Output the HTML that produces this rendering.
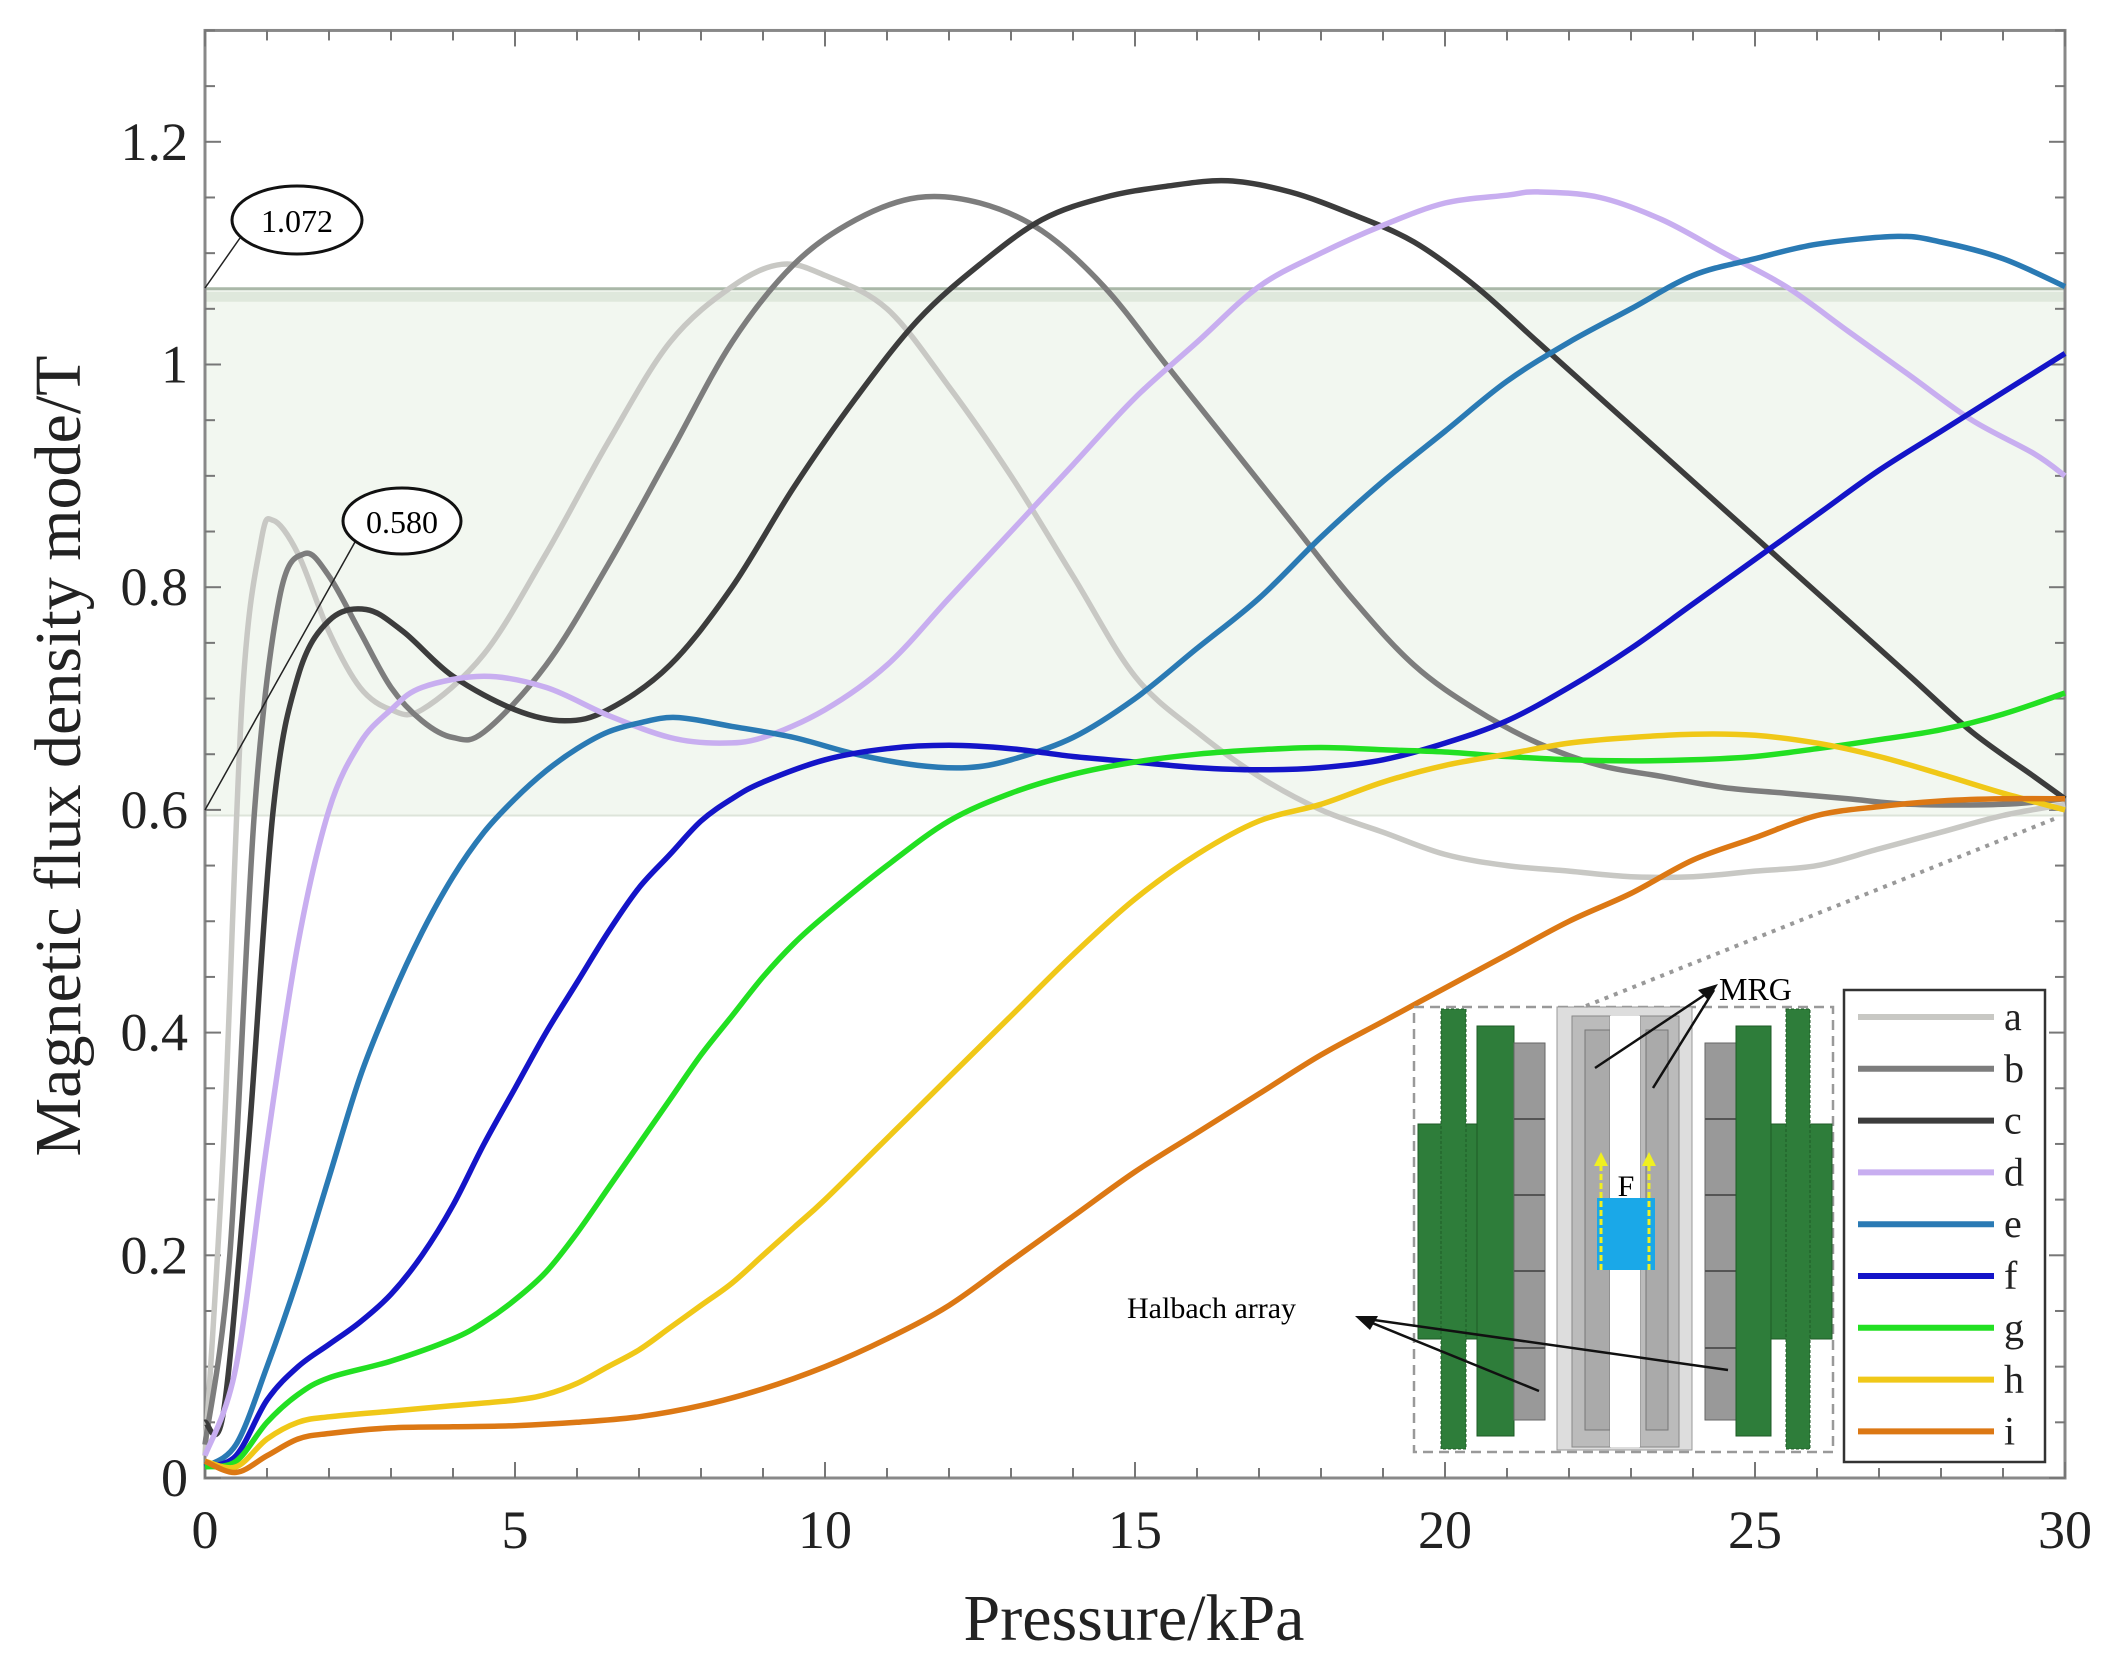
<!DOCTYPE html>
<html><head><meta charset="utf-8"><style>
html,body{margin:0;padding:0;background:#fff}
svg{display:block}
text{font-family:"Liberation Serif",serif}
</style></head><body>
<svg id="chart" width="2106" height="1663" viewBox="0 0 2106 1663" xmlns="http://www.w3.org/2000/svg">
<g id="band"></g>
<g id="grid"></g>
<g id="series"></g>
<g id="inset">
  <rect x="1414" y="1007" width="419" height="445" fill="#fff" stroke="#999" stroke-width="2.5" stroke-dasharray="10,6"/>
  <rect x="1418" y="1124" width="59" height="215" fill="#2e7d3a" stroke="#1d5a26"/>
  <rect x="1441" y="1009" width="25" height="440" fill="#2e7d3a" stroke="#1d5a26" stroke-dasharray="3,2"/>
  <rect x="1477" y="1026" width="37" height="410" fill="#2e7d3a" stroke="#1d5a26"/>
  <rect x="1514" y="1043" width="31" height="377" fill="#999" stroke="#666"/>
  <path d="M1514 1119H1545M1514 1195H1545M1514 1271H1545M1514 1348H1545" stroke="#555" stroke-width="2"/>
  <rect x="1557" y="1007" width="135" height="443" fill="#ddd" stroke="#999"/>
  <rect x="1572" y="1016" width="38" height="431" fill="#bbb" stroke="#888"/>
  <rect x="1585" y="1030" width="25" height="400" fill="#aaa" stroke="#777"/>
  <rect x="1640" y="1016" width="39" height="431" fill="#bbb" stroke="#888"/>
  <rect x="1646" y="1030" width="22" height="400" fill="#aaa" stroke="#777"/>
  <rect x="1610" y="1016" width="30" height="431" fill="#fff"/>
  <rect x="1597" y="1198" width="58" height="72" fill="#1aa8e8"/>
  <path d="M1601 1270V1160M1649 1270V1160" stroke="#f0f020" stroke-width="3" stroke-dasharray="6,3"/>
  <path d="M1594 1166L1601 1152L1608 1166ZM1642 1166L1649 1152L1656 1166Z" fill="#f0f020"/>
  <text x="1626" y="1196" font-size="30" text-anchor="middle">F</text>
  <rect x="1705" y="1043" width="31" height="377" fill="#999" stroke="#666"/>
  <path d="M1705 1119H1736M1705 1195H1736M1705 1271H1736M1705 1348H1736" stroke="#555" stroke-width="2"/>
  <rect x="1736" y="1026" width="35" height="410" fill="#2e7d3a" stroke="#1d5a26"/>
  <rect x="1771" y="1124" width="61" height="215" fill="#2e7d3a" stroke="#1d5a26"/>
  <rect x="1786" y="1009" width="24" height="440" fill="#2e7d3a" stroke="#1d5a26" stroke-dasharray="3,2"/>
  <path d="M1586 1006L2059 817" stroke="#999" stroke-width="4" stroke-dasharray="4,6"/>
  <path d="M1595 1068L1712 990M1653 1088L1714 990" stroke="#111" stroke-width="2.5"/>
  <path d="M1718 984L1698 990L1708 1000Z" fill="#111"/>
  <text x="1719" y="1000" font-size="32">MRG</text>
  <path d="M1360 1318L1539 1391M1360 1318L1728 1370" stroke="#111" stroke-width="2.5"/>
  <path d="M1355 1316L1378 1316L1370 1330Z" fill="#111"/>
  <text x="1127" y="1318" font-size="30">Halbach array</text>
</g>
<g id="legend"></g>
<g id="annot">
  <path d="M205 288L240 238" stroke="#222" stroke-width="1.5"/>
  <ellipse cx="297" cy="220" rx="65" ry="34" fill="#fff" stroke="#111" stroke-width="3"/>
  <text x="297" y="232" font-size="32" text-anchor="middle">1.072</text>
  <path d="M205 810L355 542" stroke="#222" stroke-width="1.5"/>
  <ellipse cx="402" cy="521" rx="59" ry="33" fill="#fff" stroke="#111" stroke-width="3"/>
  <text x="402" y="533" font-size="32" text-anchor="middle">0.580</text>
</g>
</svg>
<script>
const xTicks=[0,5,10,15,20,25,30];
const yTicks=[0,0.2,0.4,0.6,0.8,1,1.2];
const yTickLabels=["0","0.2","0.4","0.6","0.8","1","1.2"];
const bandRange=[0.595,1.068];
const seriesNames=["a","b","c","d","e","f","g","h","i"];
const seriesColors=["#c8c8c4","#7d7d7d","#3c3c3c","#c8aef0","#2a7ab4","#1414c8","#22e022","#f0c818","#dc7814"];
const sa=[[0,0.02],[0.3,0.3],[0.6,0.7],[0.9,0.84],[1.1,0.86],[1.5,0.83],[2,0.76],[2.5,0.71],[3,0.69],[3.5,0.69],[4.5,0.74],[5.5,0.83],[6.5,0.93],[7.5,1.02],[8.5,1.07],[9.3,1.09],[10,1.08],[11,1.05],[12,0.98],[13,0.9],[14,0.81],[15,0.72],[16,0.67],[17,0.63],[18,0.6],[19,0.58],[20,0.56],[21,0.55],[22,0.545],[23,0.54],[24,0.54],[25,0.545],[26,0.55],[27,0.565],[28,0.58],[29,0.595],[30,0.605]];
const sb=[[0,0.03],[0.4,0.2],[0.8,0.6],[1.2,0.79],[1.6,0.83],[2,0.81],[2.5,0.76],[3,0.71],[3.5,0.68],[4,0.665],[4.5,0.67],[5.5,0.73],[6.5,0.82],[7.5,0.92],[8.5,1.02],[9.5,1.09],[10.5,1.13],[11.5,1.15],[12.5,1.145],[13.5,1.12],[14.5,1.07],[15.5,1.0],[16.5,0.93],[17.5,0.86],[18.5,0.79],[19.5,0.73],[20.5,0.69],[21.5,0.66],[22.5,0.64],[23.5,0.63],[24.5,0.62],[25.5,0.615],[26.5,0.61],[27.5,0.605],[29,0.605],[30,0.61]];
const sc=[[0,0.05],[0.3,0.06],[0.7,0.3],[1.1,0.6],[1.5,0.72],[2,0.77],[2.6,0.78],[3.2,0.76],[4,0.72],[5,0.69],[5.8,0.68],[6.5,0.69],[7.5,0.73],[8.5,0.8],[9.5,0.89],[10.5,0.97],[11.5,1.04],[12.5,1.09],[13.5,1.13],[14.5,1.15],[15.5,1.16],[16.5,1.165],[17.5,1.155],[18.5,1.135],[19.5,1.11],[20.5,1.07],[21.5,1.02],[22.5,0.97],[23.5,0.92],[24.5,0.87],[25.5,0.82],[26.5,0.77],[27.5,0.72],[28.5,0.67],[29.5,0.63],[30,0.61]];
const sd=[[0,0.02],[0.5,0.1],[1,0.3],[1.5,0.48],[2,0.6],[2.5,0.66],[3,0.69],[3.5,0.71],[4.5,0.72],[5.5,0.71],[6.5,0.685],[7.5,0.665],[8.3,0.66],[9,0.665],[10,0.69],[11,0.73],[12,0.79],[13,0.85],[14,0.91],[15,0.97],[16,1.02],[17,1.07],[18,1.1],[19,1.125],[20,1.145],[21,1.152],[21.5,1.155],[22.5,1.15],[23.5,1.13],[24.5,1.1],[25.5,1.07],[26.5,1.03],[27.5,0.99],[28.5,0.95],[29.5,0.92],[30,0.9]];
const se=[[0,0.01],[0.5,0.03],[1,0.1],[1.5,0.18],[2,0.27],[2.5,0.36],[3,0.43],[3.5,0.49],[4,0.54],[4.5,0.58],[5,0.61],[5.5,0.635],[6,0.655],[6.5,0.67],[7,0.678],[7.6,0.683],[8.5,0.675],[9.5,0.665],[10.5,0.65],[11.5,0.64],[12.3,0.638],[13,0.645],[14,0.665],[15,0.7],[16,0.745],[17,0.79],[18,0.845],[19,0.895],[20,0.94],[21,0.985],[22,1.02],[23,1.05],[24,1.08],[25,1.095],[26,1.108],[27.3,1.115],[28,1.11],[29,1.095],[30,1.07]];
const sf=[[0,0.01],[0.5,0.02],[1,0.07],[1.5,0.1],[2,0.12],[2.5,0.14],[3,0.165],[3.5,0.2],[4,0.245],[4.5,0.3],[5,0.35],[5.5,0.4],[6,0.445],[6.5,0.49],[7,0.53],[7.5,0.56],[8,0.59],[8.5,0.61],[9,0.625],[10,0.645],[11,0.655],[12,0.658],[13,0.655],[14,0.648],[15,0.643],[16,0.638],[17,0.636],[18,0.638],[19,0.645],[20,0.66],[21,0.68],[22,0.71],[23,0.745],[24,0.785],[25,0.825],[26,0.865],[27,0.905],[28,0.94],[29,0.975],[30,1.01]];
const sg=[[0,0.01],[0.5,0.015],[1,0.05],[1.5,0.075],[2,0.09],[3,0.105],[4,0.125],[4.5,0.14],[5,0.16],[5.5,0.185],[6,0.22],[6.5,0.26],[7,0.3],[7.5,0.34],[8,0.38],[8.5,0.415],[9,0.45],[9.5,0.48],[10,0.505],[11,0.55],[12,0.59],[13,0.615],[14,0.632],[15,0.643],[16,0.65],[17,0.654],[18,0.656],[19,0.654],[20,0.652],[21,0.648],[22,0.645],[23,0.644],[24,0.645],[25,0.648],[26,0.655],[27,0.663],[28,0.672],[29,0.686],[30,0.705]];
const sh=[[0,0.015],[0.5,0.01],[1,0.035],[1.5,0.05],[2,0.055],[3,0.06],[4,0.065],[5,0.07],[5.5,0.075],[6,0.085],[6.5,0.1],[7,0.115],[7.5,0.135],[8,0.155],[8.5,0.175],[9,0.2],[9.5,0.225],[10,0.25],[11,0.305],[12,0.36],[13,0.415],[14,0.47],[15,0.52],[16,0.56],[17,0.59],[18,0.605],[19,0.625],[20,0.64],[21,0.65],[22,0.66],[23,0.665],[24,0.668],[25,0.667],[26,0.66],[27,0.648],[28,0.632],[29,0.615],[30,0.6]];
const si=[[0,0.015],[0.5,0.005],[1,0.02],[1.5,0.035],[2,0.04],[3,0.045],[4,0.046],[5,0.047],[6,0.05],[7,0.055],[8,0.065],[9,0.08],[10,0.1],[11,0.125],[12,0.155],[13,0.195],[14,0.235],[15,0.275],[16,0.31],[17,0.345],[18,0.38],[19,0.41],[20,0.44],[21,0.47],[22,0.5],[23,0.525],[24,0.555],[25,0.575],[26,0.595],[27,0.603],[28,0.608],[29,0.61],[30,0.61]];
const allSeries=[sa,sb,sc,sd,se,sf,sg,sh,si];

const NS="http://www.w3.org/2000/svg";
const X0=205,X1=2065,Y0=1478,PY=1113.5,XMAX=30,YMAX=1.3;
function xs(v){return X0+(X1-X0)*v/XMAX;}
function ys(v){return Y0-PY*v;}
function mk(tag,attrs,parent){const e=document.createElementNS(NS,tag);for(const k in attrs)e.setAttribute(k,attrs[k]);parent.appendChild(e);return e;}
const band=document.getElementById('band');
const br=mk('rect',{x:X0,y:ys(bandRange[1]),width:X1-X0,height:ys(bandRange[0])-ys(bandRange[1]),fill:'#f2f7f0'},band);


mk('line',{x1:X0,x2:X1,y1:ys(bandRange[1]),y2:ys(bandRange[1]),stroke:'#aab8a8','stroke-width':3},band);
mk('line',{x1:X0,x2:X1,y1:ys(bandRange[1])+8,y2:ys(bandRange[1])+8,stroke:'#dfe8dc','stroke-width':10},band);
mk('line',{x1:X0,x2:X1,y1:ys(bandRange[0]),y2:ys(bandRange[0]),stroke:'#dde4da','stroke-width':2},band);

const g=document.getElementById('grid');
const YT=Y0-PY*YMAX;
const fr=mk('rect',{x:X0,y:YT,width:X1-X0,height:Y0-YT,fill:'none',stroke:'#888','stroke-width':3},g);


for(let k=0;k<=XMAX;k++){const L=(k%5===0)?16:10;mk('line',{x1:xs(k),x2:xs(k),y1:Y0,y2:Y0-L,stroke:'#777','stroke-width':2},g);mk('line',{x1:xs(k),x2:xs(k),y1:YT,y2:YT+L,stroke:'#777','stroke-width':2},g);}
for(let k=0;k<=26;k++){const v=k*0.05;const L=(k%4===0)?16:10;mk('line',{x1:X0,x2:X0+L,y1:ys(v),y2:ys(v),stroke:'#777','stroke-width':2},g);mk('line',{x1:X1,x2:X1-L,y1:ys(v),y2:ys(v),stroke:'#777','stroke-width':2},g);}
xTicks.forEach(v=>{const t=mk('text',{x:xs(v),y:Y0+70,'font-size':54,'text-anchor':'middle',fill:'#222'},g);t.textContent=String(v);

});
yTicks.forEach((v,i)=>{const t=mk('text',{x:188,y:ys(v)+18,'font-size':54,'text-anchor':'end',fill:'#222'},g);t.textContent=yTickLabels[i];

});
const xt=mk('text',{x:1134,y:1640,'font-size':66,'text-anchor':'middle',fill:'#222'},g);xt.textContent='Pressure/kPa';


const yt=mk('text',{x:0,y:0,'font-size':66,'text-anchor':'middle',fill:'#222',transform:'translate(80,756) rotate(-90)'},g);yt.textContent='Magnetic flux density mode/T';



function pathFor(pts){const P=pts.map(p=>[xs(p[0]),ys(p[1])]);let d='M'+P[0][0].toFixed(1)+' '+P[0][1].toFixed(1);
for(let i=0;i<P.length-1;i++){const p0=P[Math.max(0,i-1)],p1=P[i],p2=P[i+1],p3=P[Math.min(P.length-1,i+2)];
const c1=[p1[0]+(p2[0]-p0[0])/6,p1[1]+(p2[1]-p0[1])/6],c2=[p2[0]-(p3[0]-p1[0])/6,p2[1]-(p3[1]-p1[1])/6];
d+=' C'+c1[0].toFixed(1)+' '+c1[1].toFixed(1)+' '+c2[0].toFixed(1)+' '+c2[1].toFixed(1)+' '+p2[0].toFixed(1)+' '+p2[1].toFixed(1);}return d;}
const sg_=document.getElementById('series');
allSeries.forEach((s,i)=>{const p=mk('path',{d:pathFor(s),fill:'none',stroke:seriesColors[i],'stroke-width':5.5,'stroke-linejoin':'round'},sg_);

});

const lg=document.getElementById('legend');
const lb=mk('rect',{x:1844,y:990,width:201,height:472,fill:'#fff',stroke:'#333','stroke-width':2.5},lg);


seriesNames.forEach((n,i)=>{const y=1017+i*51.8;
const l=mk('line',{x1:1858,x2:1994,y1:y,y2:y,stroke:seriesColors[i],'stroke-width':6},lg);


const t=mk('text',{x:2004,y:y+13,'font-size':40,fill:'#222'},lg);t.textContent=n;

});
// bring inset/legend/annotations above series
const svg=document.getElementById('chart');
svg.appendChild(document.getElementById('inset'));svg.appendChild(lg);svg.appendChild(document.getElementById('annot'));
</script>
</body></html>
